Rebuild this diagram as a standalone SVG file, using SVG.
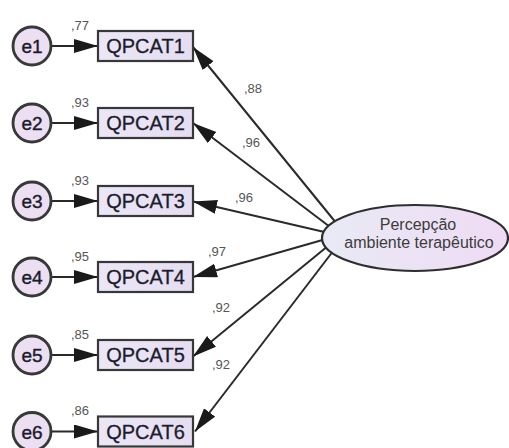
<svg xmlns="http://www.w3.org/2000/svg" width="509" height="448" viewBox="0 0 509 448">
  <defs>
    <linearGradient id="boxFill" x1="0" y1="0" x2="1" y2="0">
      <stop offset="0" stop-color="#ebe7f6"/>
      <stop offset="1" stop-color="#e5ddf1"/>
    </linearGradient>
    <linearGradient id="latentFill" x1="0" y1="0" x2="1" y2="0">
      <stop offset="0" stop-color="#e8eaf5"/>
      <stop offset="1" stop-color="#efdbf4"/>
    </linearGradient>
    <marker id="arrow" markerUnits="userSpaceOnUse" markerWidth="26" markerHeight="15" refX="24" refY="7" orient="auto">
      <path d="M0,0 L24,7 L0,14 Z" fill="#1a1a1a"/>
    </marker>
    <style>
      .conn { stroke: #2a2a2a; stroke-width: 2; fill: none; marker-end: url(#arrow); }
      .obs { fill: url(#boxFill); stroke: #383838; stroke-width: 2.2; }
      .err { fill: #ebdff1; stroke: #383838; stroke-width: 2.8; }
      .lat { fill: url(#latentFill); stroke: #2e2e2e; stroke-width: 2.2; }
      .lbl { font-family: "Liberation Sans", Arial, sans-serif; font-size: 20px; fill: #1c1c2c; stroke: #1c1c2c; stroke-width: 0.3; text-anchor: middle; }
      .elbl { font-family: "Liberation Sans", Arial, sans-serif; font-size: 19px; fill: #1c1c2c; stroke: #1c1c2c; stroke-width: 0.4; text-anchor: middle; }
      .coef { font-family: "Liberation Sans", Arial, sans-serif; font-size: 13px; fill: #555555; }
      .latlbl { font-family: "Liberation Sans", Arial, sans-serif; font-size: 16px; fill: #3c3c3c; text-anchor: middle; }
    </style>
  </defs>

  <!-- paths: error terms to indicators, latent factor to indicators -->
  <g id="connectors">
    <path class="conn" d="M51,46 L98,46"/>
    <path class="conn" d="M51,123 L98,123"/>
    <path class="conn" d="M51,201 L98,201"/>
    <path class="conn" d="M51,277 L98,277"/>
    <path class="conn" d="M51,355 L98,355"/>
    <path class="conn" d="M51,431.5 L98,431.5"/>

    <path class="conn" d="M337,224 L193,47"/>
    <path class="conn" d="M334,230 L193,123"/>
    <path class="conn" d="M333,234 L193,201.5"/>
    <path class="conn" d="M333,237 L193,277"/>
    <path class="conn" d="M334,241 L193,356.5"/>
    <path class="conn" d="M337,246 L195,431.5"/>
  </g>

  <!-- loading estimates -->
  <g id="loadings">
    <text class="coef" x="244" y="93">,88</text>
    <text class="coef" x="242" y="147">,96</text>
    <text class="coef" x="235" y="202">,96</text>
    <text class="coef" x="208" y="256">,97</text>
    <text class="coef" x="212" y="312">,92</text>
    <text class="coef" x="212" y="369">,92</text>
  </g>

  <g id="latent">
    <ellipse class="lat" cx="415" cy="238" rx="93" ry="33"/>
    <text class="latlbl" x="418" y="230">Percepção</text>
    <text class="latlbl" x="419" y="248">ambiente terapêutico</text>
  </g>

  <g id="QPCAT1">
    <rect class="obs" x="98" y="31" width="95" height="30"/>
    <text class="lbl" x="145.5" y="53">QPCAT1</text>
    <text class="coef" x="71" y="30">,77</text>
  </g>
  <g id="QPCAT2">
    <rect class="obs" x="98" y="108" width="95" height="30"/>
    <text class="lbl" x="145.5" y="130">QPCAT2</text>
    <text class="coef" x="71" y="107">,93</text>
  </g>
  <g id="QPCAT3">
    <rect class="obs" x="98" y="186" width="95" height="30"/>
    <text class="lbl" x="145.5" y="208">QPCAT3</text>
    <text class="coef" x="71" y="185">,93</text>
  </g>
  <g id="QPCAT4">
    <rect class="obs" x="98" y="262" width="95" height="30"/>
    <text class="lbl" x="145.5" y="284">QPCAT4</text>
    <text class="coef" x="71" y="261">,95</text>
  </g>
  <g id="QPCAT5">
    <rect class="obs" x="98" y="340" width="95" height="30"/>
    <text class="lbl" x="145.5" y="362">QPCAT5</text>
    <text class="coef" x="71" y="339">,85</text>
  </g>
  <g id="QPCAT6">
    <rect class="obs" x="98" y="416.5" width="95" height="30"/>
    <text class="lbl" x="145.5" y="438.5">QPCAT6</text>
    <text class="coef" x="71" y="415">,86</text>
  </g>

  <g id="e1">
    <circle class="err" cx="32" cy="46" r="19"/>
    <text class="elbl" x="32" y="53">e1</text>
  </g>
  <g id="e2">
    <circle class="err" cx="32" cy="123" r="19"/>
    <text class="elbl" x="32" y="130">e2</text>
  </g>
  <g id="e3">
    <circle class="err" cx="32" cy="201" r="19"/>
    <text class="elbl" x="32" y="208">e3</text>
  </g>
  <g id="e4">
    <circle class="err" cx="32" cy="277" r="19"/>
    <text class="elbl" x="32" y="284">e4</text>
  </g>
  <g id="e5">
    <circle class="err" cx="32" cy="355" r="19"/>
    <text class="elbl" x="32" y="362">e5</text>
  </g>
  <g id="e6">
    <circle class="err" cx="32" cy="431.5" r="19"/>
    <text class="elbl" x="32" y="438.5">e6</text>
  </g>
</svg>
